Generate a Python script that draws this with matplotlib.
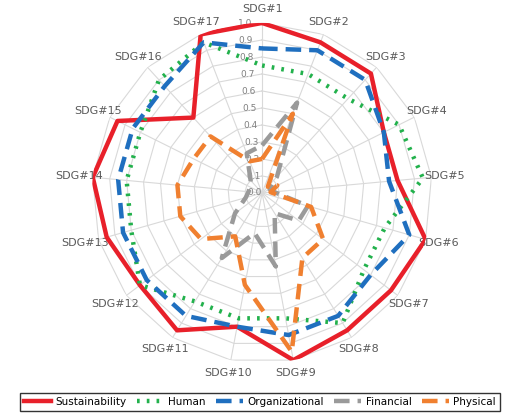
import numpy as np
import matplotlib.pyplot as plt

labels = ["SDG#" + str(i) for i in range(1, 18)]
sustainability = [1.0, 0.95, 0.95, 0.8, 0.8, 1.0, 0.95, 0.95, 1.0, 0.8, 0.95, 0.9, 0.95, 1.0, 0.95, 0.6, 1.0]
human = [0.75, 0.75, 0.75, 0.9, 0.95, 0.75, 0.75, 0.9, 0.75, 0.75, 0.75, 0.9, 0.8, 0.8, 0.8, 0.9, 0.95]
organizational = [0.85, 0.9, 0.9, 0.8, 0.75, 0.9, 0.8, 0.85, 0.85, 0.8, 0.85, 0.85, 0.85, 0.85, 0.85, 0.85, 0.95]
financial = [0.28, 0.57, 0.13, 0.05, 0.07, 0.28, 0.27, 0.14, 0.44, 0.24, 0.45, 0.2, 0.1, 0.08, 0.08, 0.1, 0.25]
physical = [0.2, 0.5, 0.05, 0.1, 0.05, 0.3, 0.45, 0.45, 0.95, 0.55, 0.3, 0.45, 0.5, 0.5, 0.45, 0.45, 0.2]

series = [
    ("Sustainability", sustainability, "#e8202a", "-"),
    ("Human", human, "#22b14c", (0, (0.6, 1.6))),
    ("Organizational", organizational, "#1f6fbf", (0, (3.5, 1.8))),
    ("Financial", financial, "#9a9a9a", (0, (3.5, 1.8))),
    ("Physical", physical, "#f08030", (0, (3.5, 1.8))),
]

n = len(labels)
ang = np.linspace(0, 2 * np.pi, n, endpoint=False)

fig = plt.figure(figsize=(5.2, 4.15), dpi=100)
ax = fig.add_axes([0.177, 0.125, 0.654, 0.82], projection="polar")
ax.set_theta_zero_location("N")
ax.set_theta_direction(-1)
ax.set_ylim(0, 1.0)
ax.set_frame_on(False)
ax.grid(False)
ax.set_yticks([])
ax.set_xticks([])

# polygon grid
for r in np.arange(0.1, 1.01, 0.1):
    ax.plot(np.append(ang, ang[0]), [r] * (n + 1), color="#d9d9d9", lw=0.8, zorder=1)
for a in ang:
    ax.plot([a, a], [0, 1.0], color="#d9d9d9", lw=0.8, zorder=1)
for r in np.arange(0, 1.01, 0.1):
    ax.text(-0.06, r, "%.1f" % r, ha="right", va="center", fontsize=6.5, color="#808080")
for a, lab in zip(ang, labels):
    ax.text(a, 1.08, lab, ha="center", va="center", fontsize=8, color="#595959")

for name, vals, col, ls in series:
    ax.plot(np.append(ang, ang[0]), vals + vals[:1], color=col, ls=ls, lw=3.2, label=name, zorder=3)

fig.legend(loc="lower center", bbox_to_anchor=(0.5, 0.005), ncol=5, fontsize=7.5, frameon=True,
           fancybox=False, edgecolor="black", handlelength=2.6, columnspacing=1.0,
           handletextpad=0.4, borderaxespad=0.2)
fig.savefig("out.png", dpi=100)
